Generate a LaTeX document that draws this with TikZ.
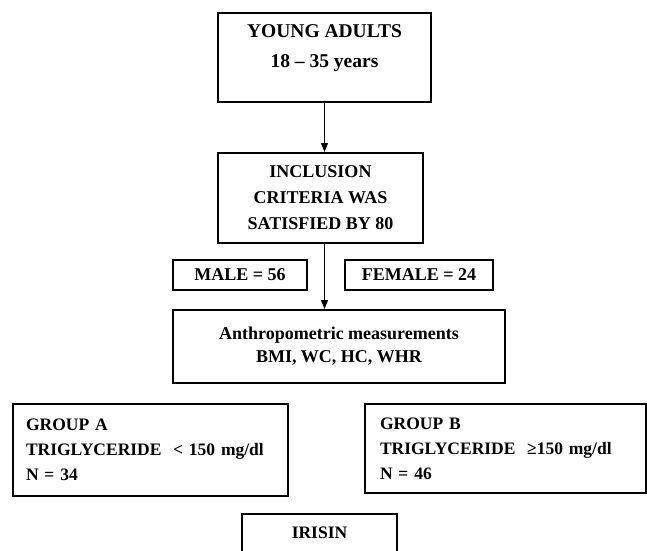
\documentclass[tikz,border=0pt]{standalone}
\usepackage{fontspec}
\setmainfont{Liberation Serif}
\newfontfamily\grpfont{Liberation Serif}[WordSpace={1,0,0}]
\usetikzlibrary{arrows.meta, positioning, calc}

\begin{document}
\begin{tikzpicture}[x=1pt,y=-1pt,
    box/.style={rectangle,draw,line width=2pt,align=center,inner sep=0pt},
    grp/.style={rectangle,draw,line width=2pt,align=left,inner ysep=0pt,font=\grpfont\bfseries\fontsize{17.5}{25}\selectfont},
    flow/.style={-{Triangle[length=9pt,width=7pt]},line width=0.8pt}]
    \clip (0,0) rectangle (647,550);
    % Partecipanti
    \node[box,minimum width=213pt,minimum height=89pt,text depth=22pt,font=\bfseries\fontsize{19.5}{30}\selectfont] (young) at (324.5,57.5) {YOUNG ADULTS\\18 -- 35 years};
    
    \node[box,minimum width=205pt,minimum height=90pt,font=\bfseries\fontsize{18}{26}\selectfont] (incl) at (320.5,198) {INCLUSION\\CRITERIA WAS\\SATISFIED BY 80};
    
    % Sesso
    \node[box,minimum width=134pt,minimum height=30pt,font=\bfseries\fontsize{18}{20}\selectfont] (male) at (240,275) {MALE = 56};
    
    \node[box,minimum width=148pt,minimum height=30pt,font=\bfseries\fontsize{18}{20}\selectfont] (female) at (419,275) {FEMALE = 24};
    
    \node[box,minimum width=332pt,minimum height=73pt,font=\bfseries\fontsize{18}{23}\selectfont] (anthro) at (339,346.5) {Anthropometric measurements\\BMI, WC, HC, WHR};
    
    % Gruppi
    \node[grp,minimum height=92pt,text width=249pt,inner xsep=13pt] (grpa) at (150.5,450) {GROUP A\\TRIGLYCERIDE \ < 150 mg/dl\\N = 34};
    
    \node[grp,minimum height=89pt,text width=251pt,inner xsep=15pt] (grpb) at (505.5,448.5) {GROUP B\\TRIGLYCERIDE \ ≥150 mg/dl\\N = 46};
    
    \node[box,minimum width=155pt,minimum height=38pt,font=\bfseries\fontsize{17.5}{20}\selectfont] (irisin) at (319.5,533) {IRISIN};
    
    % Frecce
    \draw[flow] (young.south) -- (young.south |- incl.north);
    \draw[flow] (young.south |- incl.south) -- (young.south |- anthro.north);
\end{tikzpicture}
\end{document}
